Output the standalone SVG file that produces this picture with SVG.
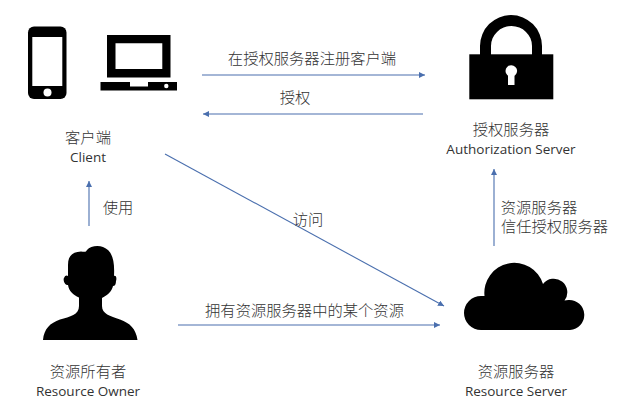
<svg xmlns="http://www.w3.org/2000/svg" width="640" height="419" viewBox="0 0 640 419">
<style>
text{font-family:"Open Sans","Noto Sans CJK SC","Noto Sans",sans-serif;font-size:13.500px;fill:#333;text-anchor:middle}
.c{font-family:"Noto Sans CJK SC",sans-serif;font-weight:300;font-size:15.300px}
.l{stroke:#4a6fae;stroke-width:1.1;fill:none;marker-end:url(#a)}
.i{fill:#000}.w{fill:#fff}
</style>
<defs><marker id="a" markerUnits="userSpaceOnUse" markerWidth="8" markerHeight="8" refX="6" refY="3" orient="auto"><path d="M0,0L6,3L0,6Z" fill="#4a6fae"/></marker></defs>
<rect width="640" height="419" fill="#fff"/>
<g id="connectors">
<path class="l" d="M202,75H425"/>
<path class="l" d="M423,114H203"/>
<path class="l" d="M165,154L444,306"/>
<path class="l" d="M178,325H440"/>
<path class="l" d="M89,226V181"/>
<path class="l" d="M494,246V169"/>
<text class="c" x="312" y="64">在授权服务器注册客户端</text>
<text class="c" x="295" y="103">授权</text>
<text class="c" x="308" y="225">访问</text>
<text class="c" x="118" y="213">使用</text>
<text class="c" x="304.500" y="316">拥有资源服务器中的某个资源</text>
<text class="c" x="539" y="213">资源服务器</text>
<text class="c" x="554.500" y="232">信任授权服务器</text>
</g>
<g id="client">
<rect class="i" x="28" y="26.500" width="38.500" height="72.500" rx="6"/>
<rect class="w" x="32.300" y="37" width="30" height="49"/>
<circle class="w" cx="47.500" cy="92.500" r="4"/>
<path class="i" d="M107,35H170.500V77.500H107ZM115.500,43.300V69H162.300V43.300Z" fill-rule="evenodd"/>
<path class="i" d="M100.500,82H130V86.500H148V82H177V90.500H100.500Z"/>
<circle class="w" cx="166.300" cy="86" r="2.200"/>
<text class="c" x="88" y="143">客户端</text>
<text x="88" y="162">Client</text>
</g>
<g id="authorization-server">
<path class="i" d="M480,56V46A31,31 0 0 1 542,46V56H532V46A20.500,20 0 0 0 491,46V56Z"/>
<rect class="i" x="469.300" y="54.300" width="84" height="45"/>
<circle class="w" cx="511.300" cy="71" r="5.800"/>
<rect class="w" x="508" y="72" width="6.500" height="13"/>
<text class="c" x="511" y="135">授权服务器</text>
<text x="511" y="154">Authorization Server</text>
</g>
<g id="resource-owner">
<path class="i" d="M43,340C44,329 50,323 60,319.500C70,316.500 79,315 79,306V297.500C73,295 69,291 68,285C64,285 63,279 64,278C65,275 67,275 68,276V265C68,256 72,252 81,251.500C85,252 86,252 87,250C90,246 98,245 103,247C111,250 115,258 114,276C116,275 117,278 116,281C116,284 115,286 113,286C112,291 108,295 102,298V306C102,314 110,316 120,319.500C130,323 136,329 137.500,340Z"/>
<text class="c" x="88" y="377">资源所有者</text>
<text x="88" y="396">Resource Owner</text>
</g>
<g id="resource-server">
<path class="i" d="M481,330A17,17 0 0 1 481,296L484.500,296A30,30 0 0 1 543,284A13.500,13.500 0 0 1 564.500,300.500A15,15 0 0 1 568.500,300A15,15 0 0 1 570,330Z"/>
<text class="c" x="516" y="377">资源服务器</text>
<text x="516" y="396">Resource Server</text>
</g>
</svg>
